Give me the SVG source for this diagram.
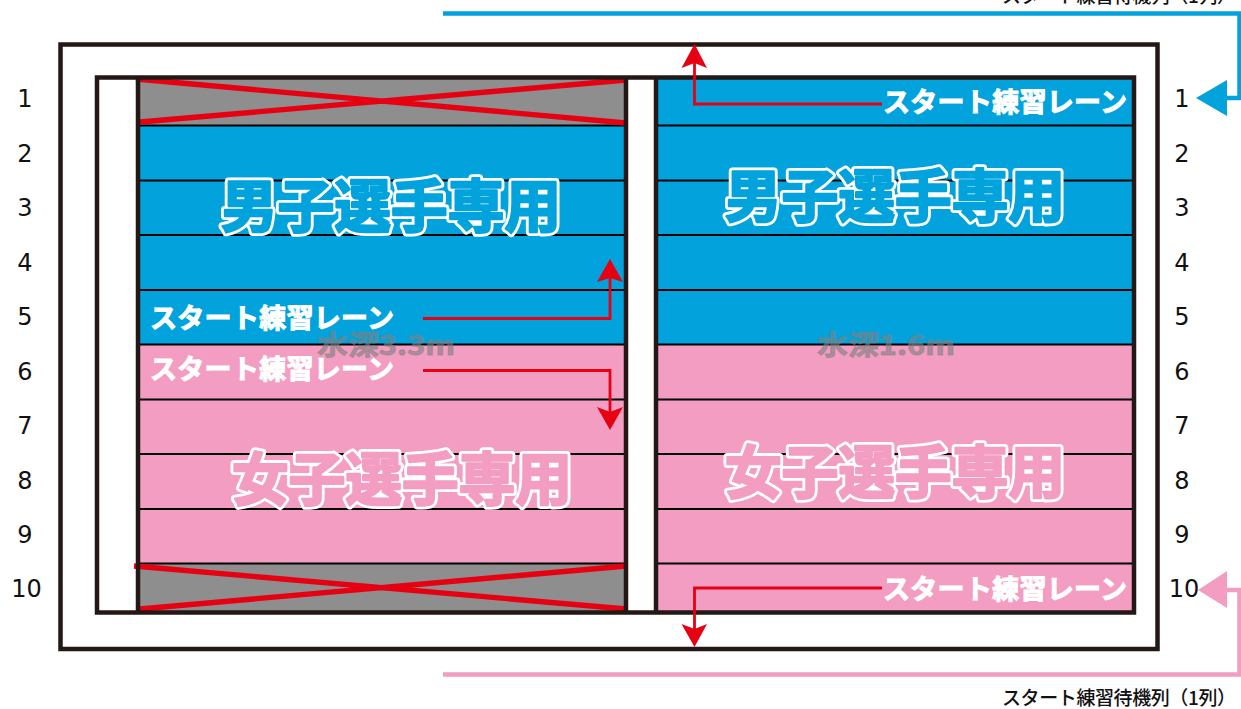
<svg xmlns="http://www.w3.org/2000/svg" width="1241" height="709" viewBox="0 0 1241 709">
<style>
text{font-family:"Noto Sans CJK JP","Noto Sans",sans-serif}
.wall{fill:none;stroke:#231815;stroke-width:4.5}
.lane{stroke:#000;stroke-width:2.2;fill:none}
.cross{stroke:#e60012;stroke-width:5.4;fill:none}
.red{stroke:#e60012;stroke-width:2.8;fill:none}
.redh{fill:#e60012}
.num{font-family:"DejaVu Sans","Liberation Sans",sans-serif;font-size:24px;fill:#111;text-anchor:middle}
.lbl{font-size:27px;font-weight:700;fill:#fff;stroke:#fff;stroke-width:1}
.cap{font-size:19px;font-weight:500;fill:#111}
.depth{font-size:27px;font-weight:700;fill:#808080;fill-opacity:.6;stroke:#808080;stroke-opacity:.5;stroke-width:1}
.bo{font-size:56.5px;font-weight:700;stroke:#fff;stroke-width:8;stroke-linejoin:round;fill:#fff}
.bi{font-size:56.5px;font-weight:700;stroke-width:2.4;stroke-linejoin:round}
.blue{fill:#02a3dd;stroke:#02a3dd}
.pink{fill:#f29dc1;stroke:#f29dc1}
</style>
<g id="pool-left">
<rect x="138" y="78" width="488" height="48" fill="#8e8e8e"/>
<rect x="138" y="126" width="488" height="219" fill="#02a3dd"/>
<rect x="138" y="345" width="488" height="219" fill="#f29dc1"/>
<rect x="138" y="564" width="488" height="48" fill="#8e8e8e"/>
</g>
<g id="pool-right">
<rect x="656" y="78" width="478" height="267" fill="#02a3dd"/>
<rect x="656" y="345" width="478" height="267" fill="#f29dc1"/>
</g>
<g id="lanes">
<path class="lane" d="M138 125.5H626M138 180.5H626M138 235H626M138 290H626M138 344.5H626M138 399.5H626M138 454H626M138 509H626M138 563.5H626"/>
<path class="lane" d="M656 125.5H1134M656 180.5H1134M656 235H1134M656 290H1134M656 344.5H1134M656 399.5H1134M656 454H1134M656 509H1134M656 563.5H1134"/>
</g>
<g id="closed-lanes">
<path class="cross" d="M136 79L626 123M140 122L626 80"/>
<path class="cross" d="M134 566L626 609M140 609L626 566"/>
</g>
<g id="walls">
<rect class="wall" x="60.5" y="44.5" width="1097" height="604.5"/>
<rect class="wall" x="97" y="77.5" width="1037" height="535"/>
<path class="wall" d="M138 77.5V612.5M626 77.5V612.5M656 77.5V612.5"/>
</g>
<g id="big-labels">
<text class="bo" x="221" y="227" textLength="340">男子選手専用</text>
<text class="bi blue" x="221" y="227" textLength="340">男子選手専用</text>
<text class="bo" x="725" y="217" textLength="340">男子選手専用</text>
<text class="bi blue" x="725" y="217" textLength="340">男子選手専用</text>
<text class="bo" x="232" y="500" textLength="340">女子選手専用</text>
<text class="bi pink" x="232" y="500" textLength="340">女子選手専用</text>
<text class="bo" x="725" y="493" textLength="340">女子選手専用</text>
<text class="bi pink" x="725" y="493" textLength="340">女子選手専用</text>
</g>
<g id="depth-labels">
<text class="depth" x="317" y="355" textLength="138" lengthAdjust="spacingAndGlyphs">水深3.3m</text>
<text class="depth" x="817" y="355" textLength="138" lengthAdjust="spacingAndGlyphs">水深1.6m</text>
</g>
<g id="lane-labels">
<text class="lbl" x="150" y="328" textLength="244">スタート練習レーン</text>
<text class="lbl" x="150" y="379" textLength="244">スタート練習レーン</text>
<text class="lbl" x="883" y="112" textLength="244">スタート練習レーン</text>
<text class="lbl" x="883" y="599" textLength="244">スタート練習レーン</text>
</g>
<g id="connectors">
<path class="red" d="M882 104H694.5V62"/>
<polygon class="redh" points="694.5,44 707,68 694.5,63 681.5,68"/>
<path class="red" d="M882 588H694.5V630"/>
<polygon class="redh" points="694.5,647 707,624 694.5,629 681.5,624"/>
<path class="red" d="M423 318.5H610V276"/>
<polygon class="redh" points="610,259 623,282 610,278 597,282"/>
<path class="red" d="M423 370.5H610V414"/>
<polygon class="redh" points="610,430 623,407 610,412 597,407"/>
<path d="M443 13.5H1239.5V98H1225" fill="none" stroke="#02a3dd" stroke-width="4.5"/>
<polygon points="1196,98 1227,80 1227,116" fill="#02a3dd"/>
<path d="M443 674.5H1239.5V590H1225" fill="none" stroke="#f29dc1" stroke-width="4.5"/>
<polygon points="1198,590 1227,571 1227,608" fill="#f29dc1"/>
</g>
<g id="lane-numbers-left">
<text class="num" x="25" y="107">1</text><text class="num" x="25" y="161.5">2</text><text class="num" x="25" y="216">3</text><text class="num" x="25" y="270.5">4</text><text class="num" x="25" y="325">5</text><text class="num" x="25" y="379.5">6</text><text class="num" x="25" y="434">7</text><text class="num" x="25" y="488.5">8</text><text class="num" x="25" y="543">9</text><text class="num" x="26.5" y="597">10</text>
</g>
<g id="lane-numbers-right">
<text class="num" x="1182" y="107">1</text><text class="num" x="1182" y="161.5">2</text><text class="num" x="1182" y="216">3</text><text class="num" x="1182" y="270.5">4</text><text class="num" x="1182" y="325">5</text><text class="num" x="1182" y="379.5">6</text><text class="num" x="1182" y="434">7</text><text class="num" x="1182" y="488.5">8</text><text class="num" x="1182" y="543">9</text><text class="num" x="1184" y="597">10</text>
</g>
<g id="captions">
<text class="cap" x="1002" y="2.5" textLength="234">スタート練習待機列（1列）</text>
<text class="cap" x="1002" y="705" textLength="234">スタート練習待機列（1列）</text>
</g>
</svg>
